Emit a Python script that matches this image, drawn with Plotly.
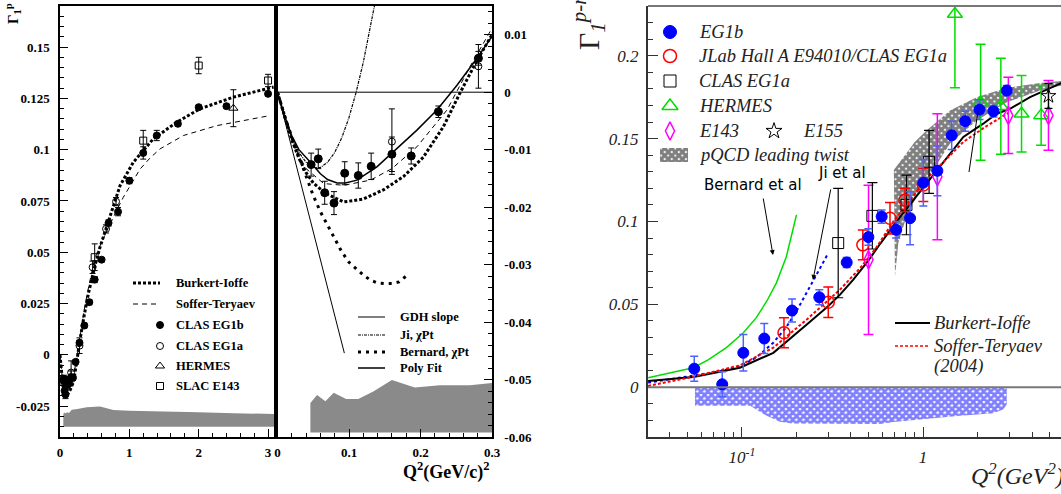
import plotly.graph_objects as go

W, H = 1061, 494

# ================= Proton Gamma_1 (left and middle panels) =================
eg1b_q2 = [0.047, 0.057, 0.066, 0.079, 0.094, 0.113, 0.131, 0.160, 0.187, 0.225, 0.281,
           0.351, 0.423, 0.50, 0.60, 0.70, 0.837, 1.0, 1.2, 1.395, 1.70, 2.0, 2.4, 3.0]
eg1b_g1 = [-0.0126, -0.0116, -0.0175, -0.0193, -0.0141, -0.0145, -0.0129, -0.0108, -0.0111, -0.0034, 0.0059,
           0.0143, 0.0257, 0.0367, 0.0464, 0.0643, 0.0698, 0.0849, 0.0984, 0.1069, 0.1126, 0.1207, 0.1212, 0.1272]
eg1b_err = [0.0020, 0.0017, 0.0020, 0.0020, 0.0020, 0.0022, 0.0023, 0.0030, 0.0014, 0.0010, 0.0012,
            0.0012, 0.0012, 0.0015, 0.0010, 0.0015, 0.0020, 0.0015, 0.0030, 0.0025, 0.0010, 0.0010, 0.0010, 0.0010]

eg1a_q2 = [0.16, 0.281, 0.47, 0.664, 0.808]
eg1a_g1 = [-0.0086, 0.0045, 0.0427, 0.0614, 0.0747]
eg1a_err = [0.0057, 0.0038, 0.0030, 0.0020, 0.0020]

e143p_q2 = [0.5, 1.2, 2.0, 3.0]
e143p_g1 = [0.0476, 0.1044, 0.141, 0.1337]
e143p_err = [0.0065, 0.0050, 0.0040, 0.0030]

hermp_q2 = [2.5]
hermp_g1 = [0.1202]
hermp_err = [0.009]

bi_p_q2 = [0, 0.01, 0.02, 0.03, 0.04, 0.05, 0.067, 0.0925, 0.12, 0.148, 0.176, 0.204, 0.232, 0.255,
           0.278, 0.3, 0.35, 0.41, 0.5, 0.577, 0.72, 0.866, 1.058, 1.346, 1.684, 2.02, 2.5, 3.08]
bi_p_g1 = [0, -0.0043, -0.0083, -0.0115, -0.014, -0.0158, -0.0176, -0.0191, -0.0186, -0.017, -0.0147, -0.0113,
           -0.006, -0.0002, 0.0053, 0.0100, 0.0195, 0.030, 0.043, 0.0525, 0.0679, 0.0825, 0.0939, 0.1053,
           0.1134, 0.1199, 0.1256, 0.1305]

st_p_q2 = [0, 0.01, 0.02, 0.03, 0.04, 0.0646, 0.0925, 0.13, 0.16, 0.195, 0.237, 0.269, 0.3, 0.35, 0.4,
           0.5, 0.6, 0.7, 0.818, 0.913, 1.154, 1.3, 1.443, 1.78, 2.26, 2.98]
st_p_g1 = [0, -0.0043, -0.0082, -0.011, -0.0133, -0.0159, -0.0162, -0.0153, -0.0133, -0.0095, -0.0031,
           0.0044, 0.0114, 0.022, 0.031, 0.047, 0.055, 0.0625, 0.0705, 0.0768, 0.0905, 0.096, 0.1004,
           0.1069, 0.1117, 0.1163]

gdh_q2 = [0, 0.0935]
gdh_g1 = [0, -0.0454]

ji_p_q2 = [0, 0.01, 0.02, 0.03, 0.04, 0.05, 0.06, 0.07, 0.08, 0.09, 0.10, 0.11, 0.12, 0.13, 0.136]
ji_p_g1 = [0, -0.0044, -0.0079, -0.0105, -0.0122, -0.0131, -0.0131, -0.0122, -0.0105, -0.0079, -0.0044,
           0.0, 0.0052, 0.0113, 0.0153]

bern_p_q2 = [0, 0.01, 0.02, 0.03, 0.04, 0.05, 0.06, 0.07, 0.08, 0.09, 0.10, 0.11, 0.12, 0.13, 0.14,
             0.15, 0.16, 0.17, 0.18]
bern_p_g1 = [0, -0.0042, -0.0078, -0.0112, -0.0148, -0.0180, -0.0208, -0.0232, -0.0255, -0.0278, -0.0296,
             -0.0307, -0.0318, -0.0327, -0.0332, -0.0333, -0.0333, -0.0330, -0.0320]

poly_q2 = [0, 0.01, 0.02, 0.03, 0.046, 0.06, 0.07, 0.0833, 0.095, 0.111, 0.139, 0.167, 0.195, 0.223,
           0.251, 0.279, 0.3]
poly_g1 = [0, -0.0042, -0.0076, -0.0100, -0.0122, -0.0142, -0.0152, -0.0158, -0.0158, -0.0153, -0.0130,
           -0.0098, -0.0066, -0.0031, 0.0012, 0.0059, 0.0097]

lsys_q2 = [0.048, 0.063, 0.08, 0.1, 0.13, 0.17, 0.25, 0.385, 0.577, 0.77, 1.0, 1.54, 2.0, 2.5, 3.09]
lsys_top = [-0.0288, -0.0281, -0.0286, -0.0279, -0.0283, -0.0267, -0.0264, -0.0255, -0.0252, -0.0268,
            -0.0272, -0.0274, -0.0279, -0.0284, -0.0288]
lsys_base = -0.035

msys_q2 = [0.046, 0.0553, 0.067, 0.0786, 0.096, 0.113, 0.134, 0.16, 0.192, 0.227, 0.269, 0.3]
msys_top = [-0.0541, -0.0527, -0.0538, -0.0523, -0.0534, -0.0534, -0.0521, -0.0501, -0.0514, -0.0510,
            -0.0510, -0.0506]
msys_base = -0.0592

# ================= Bjorken sum Gamma_1^{p-n} (right panel) =================
b_eg1b_q2 = [0.0545, 0.0778, 0.1017, 0.1328, 0.189, 0.2674, 0.3788, 0.499, 0.591, 0.71, 0.848, 1.004,
             1.2, 1.44, 1.71, 2.05, 2.45, 2.9]
b_eg1b_v = [0.0112, 0.0018, 0.0208, 0.0294, 0.0463, 0.0543, 0.0753, 0.0906, 0.103, 0.095, 0.102, 0.1234,
            0.1306, 0.152, 0.1605, 0.1675, 0.1665, 0.179]
b_eg1b_e = [0.0075, 0.0075, 0.011, 0.009, 0.007, 0.0045, 0.003, 0.005, 0.004, 0.005, 0.016, 0.014,
            0.015, 0.0085, 0.006, 0.006, 0.0035, 0.003]

b_jlab_q2 = [0.1706, 0.2997, 0.465, 0.657, 0.795, 1.004]
b_jlab_v = [0.0329, 0.0513, 0.0859, 0.102, 0.113, 0.122]
b_jlab_e = [0.009, 0.0092, 0.009, 0.0095, 0.007, 0.010]

b_eg1a_q2 = [0.34, 0.525, 0.81, 1.08]
b_eg1a_v = [0.087, 0.1034, 0.110, 0.136]
b_eg1a_e = [0.033, 0.020, 0.018, 0.019]

b_herm_q2 = [1.5, 2.08, 2.69, 3.5, 4.49]
b_herm_v = [0.2252, 0.172, 0.1695, 0.165, 0.164]
b_herm_e = [0.0445, 0.035, 0.029, 0.023, 0.018]

b_e143_q2 = [0.5, 1.2, 2.96, 4.93]
b_e143_v = [0.0769, 0.127, 0.164, 0.164]
b_e143_e = [0.045, 0.038, 0.023, 0.021]

b_e155_q2 = [4.93]
b_e155_v = [0.1757]
b_e155_e = [0.0075]

bern_b_q2 = [0.0303, 0.04, 0.0538, 0.065, 0.082, 0.1018, 0.12, 0.137, 0.155, 0.176, 0.2]
bern_b_v = [0.0058, 0.0085, 0.0118, 0.0165, 0.0239, 0.0329, 0.042, 0.0519, 0.063, 0.0789, 0.104]

ji_b_q2 = [0.0303, 0.0539, 0.075, 0.0974, 0.12, 0.149, 0.175, 0.2, 0.248, 0.3]
ji_b_v = [0.0028, 0.0068, 0.0095, 0.0128, 0.018, 0.0269, 0.036, 0.0459, 0.0649, 0.081]

bi_b_q2 = [0.0303, 0.054, 0.0974, 0.149, 0.228, 0.3, 0.348, 0.412, 0.5, 0.578, 0.746, 1.0, 1.19, 1.41,
           1.67, 2.15, 2.55, 3.02, 3.9, 5.8]
bi_b_v = [0.0038, 0.0062, 0.0118, 0.0208, 0.0379, 0.049, 0.0559, 0.0649, 0.0765, 0.0864, 0.1026, 0.12,
          0.131, 0.141, 0.151, 0.159, 0.165, 0.168, 0.175, 0.1835]

st_b_q2 = [0.0303, 0.054, 0.0974, 0.149, 0.228, 0.348, 0.45, 0.55, 0.686, 0.85, 1.05, 1.3, 1.67, 2.2, 2.96]
st_b_v = [0.0008, 0.0064, 0.0132, 0.0239, 0.0409, 0.0589, 0.072, 0.084, 0.1, 0.113, 0.126, 0.136, 0.148,
          0.157, 0.1655]

pq_hi_q2 = [0.69, 0.78, 0.9, 1.05, 1.41, 1.98, 2.9, 4.43, 5.8]
pq_hi_v = [0.131, 0.139, 0.148, 0.155, 0.167, 0.175, 0.1807, 0.1835, 0.1848]
pq_lo_q2 = [0.70, 0.72, 0.73, 0.81, 0.94, 1.14, 1.41, 1.98, 2.9, 4.43, 5.8]
pq_lo_v = [0.067, 0.080, 0.087, 0.103, 0.117, 0.131, 0.147, 0.161, 0.172, 0.179, 0.182]

bsys_q2 = [0.055, 0.08, 0.111, 0.115, 0.137, 0.162, 0.19, 0.578, 0.685, 1.6, 2.45, 2.78, 2.9]
bsys_lo = [-0.0112, -0.0112, -0.0112, -0.0122, -0.0172, -0.0208, -0.0218, -0.0222, -0.0209, -0.0172,
           -0.0156, -0.0132, -0.0102]

# ================= layout helpers =================
def px(x):
    return x / W


def py(y):
    return 1 - y / H


L_DOM = [px(60), px(274.3)]
M_DOM = [px(277.5), px(492)]
R_DOM = [px(648), 1.0]
Y_DOM = [py(437), py(6)]

SERIF = "Liberation Serif"
BOLD = dict(family=SERIF, size=13, color="black", weight="bold")
ITAL = dict(family=SERIF, size=17, color="#222222", style="italic")
GRAY = "#8a8a8a"
BLACK_PAT = dict(shape="x", fgcolor="black", bgcolor="white", size=5, solidity=0.85)
BLUE_PAT = dict(shape="x", fgcolor="#0000ff", bgcolor="white", size=5, solidity=0.8)

fig = go.Figure()


def band(xs, top, bottom, xa, ya, **kw):
    bot = bottom if isinstance(bottom, list) else [bottom] * len(xs)
    fig.add_trace(go.Scatter(x=list(xs) + list(xs)[::-1], y=list(top) + bot[::-1], xaxis=xa, yaxis=ya,
                             mode="lines", fill="toself", line=dict(width=0), hoverinfo="skip", **kw))


def line(xs, ys, xa, ya, color="black", width=1, dash="solid"):
    fig.add_trace(go.Scatter(x=xs, y=ys, xaxis=xa, yaxis=ya, mode="lines",
                             line=dict(color=color, width=width, dash=dash)))


def pts(xs, ys, es, xa, ya, symbol, size, color, ecolor=None, ethick=1, ewidth=3, mlw=1):
    fig.add_trace(go.Scatter(x=xs, y=ys, xaxis=xa, yaxis=ya, mode="markers",
                             marker=dict(symbol=symbol, size=size, color=color, line=dict(color=color, width=mlw)),
                             error_y=dict(type="data", array=es, visible=True, color=ecolor or color,
                                          thickness=ethick, width=ewidth)))


# ---------------- left panel ----------------
band(lsys_q2, lsys_top, lsys_base, "x", "y", fillcolor=GRAY)
line(bi_p_q2, bi_p_g1, "x", "y", width=3, dash="3px,2px")
line(st_p_q2, st_p_g1, "x", "y", width=1, dash="5px,4px")
pts(eg1b_q2, eg1b_g1, eg1b_err, "x", "y", "circle", 7, "black")
pts(eg1a_q2, eg1a_g1, eg1a_err, "x", "y", "circle-open", 7, "black")
pts(hermp_q2, hermp_g1, hermp_err, "x", "y", "triangle-up-open", 8, "black")
pts(e143p_q2, e143p_g1, e143p_err, "x", "y", "square-open", 7, "black")

# ---------------- middle panel ----------------
band(msys_q2, msys_top, msys_base, "x2", "y2", fillcolor=GRAY)
line(gdh_q2, gdh_g1, "x2", "y2", width=1)
line(ji_p_q2, ji_p_g1, "x2", "y2", width=1.2, dash="3px,1px,1px,1px")
line(bern_p_q2, bern_p_g1, "x2", "y2", width=3, dash="3px,5px")
line(poly_q2, poly_g1, "x2", "y2", width=1.5)
line(bi_p_q2, bi_p_g1, "x2", "y2", width=3, dash="3px,2px")
line(st_p_q2, st_p_g1, "x2", "y2", width=1, dash="5px,4px")
pts(eg1b_q2, eg1b_g1, eg1b_err, "x2", "y2", "circle", 8, "black")
pts(eg1a_q2, eg1a_g1, eg1a_err, "x2", "y2", "circle-open", 7, "black")

# ---------------- right panel ----------------
band(bsys_q2, [0] * len(bsys_q2), bsys_lo, "x3", "y3", fillcolor="rgba(0,0,0,0)", fillpattern=BLUE_PAT)
fig.add_trace(go.Scatter(x=pq_hi_q2 + pq_lo_q2[::-1], y=pq_hi_v + pq_lo_v[::-1], xaxis="x3", yaxis="y3",
                         mode="lines", fill="toself", line=dict(width=0), fillcolor="rgba(0,0,0,0)",
                         fillpattern=BLACK_PAT))
line(bern_b_q2, bern_b_v, "x3", "y3", color="#00dd00", width=1.5)
line(ji_b_q2, ji_b_v, "x3", "y3", color="#0000ff", width=2, dash="dot")
line(bi_b_q2, bi_b_v, "x3", "y3", color="black", width=2)
line(st_b_q2, st_b_v, "x3", "y3", color="#ff0000", width=2, dash="3px,2px")
pts(b_herm_q2, b_herm_v, b_herm_e, "x3", "y3", "triangle-up-open", 13, "#00dd00", ethick=1.5, ewidth=5, mlw=1.5)
pts(b_e143_q2, b_e143_v, b_e143_e, "x3", "y3", "diamond-tall-open", 13, "#ff00ff", ethick=1.5, ewidth=5, mlw=1.5)
pts(b_eg1a_q2, b_eg1a_v, b_eg1a_e, "x3", "y3", "square-open", 11, "black", ethick=1.2, ewidth=5)
pts(b_jlab_q2, b_jlab_v, b_jlab_e, "x3", "y3", "circle-open", 12, "#ff0000", ethick=1.5, ewidth=5, mlw=1.5)
pts(b_eg1b_q2, b_eg1b_v, b_eg1b_e, "x3", "y3", "circle", 11, "#0000ff", ecolor="#4a62ff", ethick=1.5, ewidth=4)
pts(b_e155_q2, b_e155_v, b_e155_e, "x3", "y3", "star-open", 11, "black", ethick=1.2, ewidth=4)

# ---------------- legends (drawn on a full-figure pixel overlay) ----------------
def ov_line(x0, x1, y, color="black", width=1, dash="solid"):
    fig.add_trace(go.Scatter(x=[x0, x1], y=[y, y], xaxis="x4", yaxis="y4", mode="lines",
                             line=dict(color=color, width=width, dash=dash)))


def ov_mark(x, y, symbol, size, color, mlw=1):
    fig.add_trace(go.Scatter(x=[x], y=[y], xaxis="x4", yaxis="y4", mode="markers",
                             marker=dict(symbol=symbol, size=size, color=color, line=dict(color=color, width=mlw))))


annos = []


def txt(x, y, s, font, xanchor="left", yanchor="middle", angle=0):
    annos.append(dict(x=px(x), y=py(y), xref="paper", yref="paper", text=s, showarrow=False, font=font,
                      xanchor=xanchor, yanchor=yanchor, textangle=angle))


LFONT = dict(family=SERIF, size=12.5, color="black", weight="bold")
left_rows = [283, 304, 325, 346, 366, 386]
ov_line(133, 160, left_rows[0], width=3, dash="3px,2px")
ov_line(133, 160, left_rows[1], width=1, dash="5px,4px")
ov_mark(160, left_rows[2], "circle", 7, "black")
ov_mark(160, left_rows[3], "circle-open", 7, "black")
ov_mark(160, left_rows[4], "triangle-up-open", 8, "black")
ov_mark(160, left_rows[5], "square-open", 7, "black")
for yy, s in zip(left_rows, ["Burkert-Ioffe", "Soffer-Teryaev", "CLAS EG1b", "CLAS EG1a", "HERMES", "SLAC E143"]):
    txt(174, yy, s, LFONT)

mid_rows = [317, 335, 352, 368]
ov_line(358, 385, mid_rows[0], color="#555555", width=1.5)
ov_line(358, 385, mid_rows[1], width=1.2, dash="3px,1px,1px,1px")
ov_line(358, 385, mid_rows[2], width=3, dash="3px,5px")
ov_line(358, 385, mid_rows[3], width=1.5)
for yy, s in zip(mid_rows, ["GDH slope", "Ji, χPt", "Bernard, χPt", "Poly Fit"]):
    txt(398, yy, s, LFONT)

RFONT = dict(family=SERIF, size=18.5, color="#222222", style="italic")
r_rows = [32, 56, 81, 106, 131, 155]
ov_mark(670, r_rows[0], "circle", 13, "#0000ff")
ov_mark(670, r_rows[1], "circle-open", 13, "#ff0000", mlw=1.5)
ov_mark(670, r_rows[2], "square-open", 12, "black")
ov_mark(670, r_rows[3], "triangle-up-open", 14, "#00dd00", mlw=1.5)
ov_mark(670, r_rows[4], "diamond-tall-open", 13, "#ff00ff", mlw=1.5)
ov_mark(774, r_rows[4], "star-open", 12, "black")
fig.add_trace(go.Scatter(x=[660, 688, 688, 660, 660], y=[148, 148, 162, 162, 148], xaxis="x4", yaxis="y4",
                         mode="lines", fill="toself", line=dict(width=0), fillcolor="rgba(0,0,0,0)",
                         fillpattern=BLACK_PAT))
for yy, s in zip(r_rows, ["EG1b", "JLab Hall A E94010/CLAS EG1a", "CLAS EG1a", "HERMES", "E143",
                          "pQCD leading twist"]):
    txt(697, yy, s, RFONT)
txt(801, r_rows[4], "E155", RFONT)

ov_line(895, 930, 323, color="black", width=2)
ov_line(895, 930, 346, color="#ff0000", width=1.5, dash="3px,2px")
txt(932, 323, "Burkert-Ioffe", RFONT)
txt(932, 346, "Soffer-Teryaev", RFONT)
txt(932, 366, "(2004)", RFONT)

# texts and titles
SANS = dict(family="DejaVu Sans", size=15, color="black")
txt(753, 185, "Bernard et al", SANS, xanchor="center")
txt(842, 173, "Ji et al", SANS, xanchor="center")
annos.append(dict(x=px(773), y=py(255), ax=763 - 773, ay=197 - 255, xref="paper", yref="paper", text="",
                  showarrow=True, arrowhead=2, arrowsize=1, arrowwidth=1, arrowcolor="black"))
annos.append(dict(x=px(813), y=py(280), ax=831 - 813, ay=188 - 280, xref="paper", yref="paper", text="",
                  showarrow=True, arrowhead=2, arrowsize=1, arrowwidth=1, arrowcolor="black"))

txt(13, 14, "Γ<sub>1</sub><sup>p</sup>", dict(family=SERIF, size=15, color="black", weight="bold"),
    xanchor="center", yanchor="middle", angle=-90)
txt(589, 22, "Γ<sub><i>1</i></sub><sup><i>p-n</i></sup>", dict(family=SERIF, size=30, color="#222222"),
    xanchor="center", yanchor="middle", angle=-90)
txt(492, 471, "<b>Q<sup>2</sup>(GeV/c)<sup>2</sup></b>", dict(family=SERIF, size=18, color="black"),
    xanchor="right")
txt(969, 474, "Q<sup>2</sup>(GeV<sup>2</sup>)", dict(family=SERIF, size=24, color="#222222", style="italic"))

shapes = [
    dict(type="line", xref="x2 domain", yref="y2", x0=0, x1=1, y0=0, y1=0, line=dict(color="black", width=1),
         layer="above"),
    dict(type="line", xref="x3 domain", yref="y3", x0=0, x1=1, y0=0, y1=0, line=dict(color="#777777", width=2),
         layer="above"),
    dict(type="line", xref="x3 domain", yref="y3 domain", x0=0, x1=1, y0=1, y1=1,
         line=dict(color="#777777", width=2), layer="above"),
    dict(type="line", xref="paper", yref="paper", x0=px(978), x1=px(969), y0=py(111), y1=py(172),
         line=dict(color="black", width=1)),
]

AX = dict(showgrid=False, zeroline=False, showline=True, ticks="inside", tickcolor="black", automargin=False)

fig.update_layout(
    width=W, height=H, margin=dict(l=0, r=0, t=0, b=0, autoexpand=False),
    paper_bgcolor="white", plot_bgcolor="rgba(0,0,0,0)", showlegend=False,
    xaxis=dict(AX, domain=L_DOM, range=[0, 3.09], anchor="y", linecolor="black", linewidth=1.5, mirror=True,
               ticklen=8, tickvals=[0, 1, 2, 3], ticktext=["0", "1", "2", "3"], tickfont=BOLD,
               ticklabelstandoff=3,
               minor=dict(ticks="inside", ticklen=4, dtick=0.2, tick0=0, tickcolor="black")),
    yaxis=dict(AX, domain=Y_DOM, range=[-0.04, 0.17], anchor="x", linecolor="black", linewidth=1.5, mirror=True,
               ticklen=8, tickvals=[-0.025, 0, 0.025, 0.05, 0.075, 0.1, 0.125, 0.15],
               ticktext=["-0.025", "0", "0.025", "0.05", "0.075", "0.1", "0.125", "0.15"], tickfont=BOLD,
               ticklabelstandoff=6,
               minor=dict(ticks="inside", ticklen=4, dtick=0.005, tick0=0, tickcolor="black")),
    xaxis2=dict(AX, domain=M_DOM, range=[0, 0.3], anchor="y2", linecolor="black", linewidth=1.5, mirror=True,
                ticklen=8, tickvals=[0, 0.1, 0.2, 0.3], ticktext=["0", "0.1", "0.2", "0.3"], tickfont=BOLD,
                ticklabelstandoff=3,
                minor=dict(ticks="inside", ticklen=4, dtick=0.02, tick0=0, tickcolor="black")),
    yaxis2=dict(AX, domain=Y_DOM, range=[-0.06, 0.015], anchor="x2", side="right", linecolor="black",
                linewidth=1.5, mirror=True, ticklen=8,
                tickvals=[-0.06, -0.05, -0.04, -0.03, -0.02, -0.01, 0, 0.01],
                ticktext=["-0.06", "-0.05", "-0.04", "-0.03", "-0.02", "-0.01", "0", "0.01"], tickfont=BOLD,
                ticklabelstandoff=8,
                minor=dict(ticks="inside", ticklen=4, dtick=0.002, tick0=0, tickcolor="black")),
    xaxis3=dict(AX, type="log", domain=R_DOM, range=[-1.519, 0.762], anchor="y3", linecolor="#333333",
                linewidth=2, ticklen=10, tickcolor="#333333", tickvals=[0.1, 1],
                ticktext=["10<sup>-1</sup>", "1"], tickfont=ITAL, ticklabelstandoff=4,
                minor=dict(ticks="inside", ticklen=5, tickcolor="#333333",
                           tickvals=[0.04, 0.05, 0.06, 0.07, 0.08, 0.09, 0.2, 0.3, 0.4, 0.5, 0.6, 0.7, 0.8,
                                     0.9, 2, 3, 4, 5])),
    yaxis3=dict(AX, domain=Y_DOM, range=[-0.03, 0.23], anchor="x3", linecolor="#333333", linewidth=2,
                ticklen=10, tickcolor="#333333", tickvals=[0, 0.05, 0.1, 0.15, 0.2],
                ticktext=["0", "0.05", "0.1", "0.15", "0.2"], tickfont=ITAL, ticklabelstandoff=4,
                minor=dict(ticks="inside", ticklen=5, dtick=0.01, tick0=0, tickcolor="#333333")),
    xaxis4=dict(domain=[0, 1], range=[0, W], visible=False, anchor="y4", fixedrange=True, automargin=False),
    yaxis4=dict(domain=[0, 1], range=[H, 0], visible=False, anchor="x4", fixedrange=True, automargin=False),
    annotations=annos, shapes=shapes,
)

fig.write_html("out.html")
